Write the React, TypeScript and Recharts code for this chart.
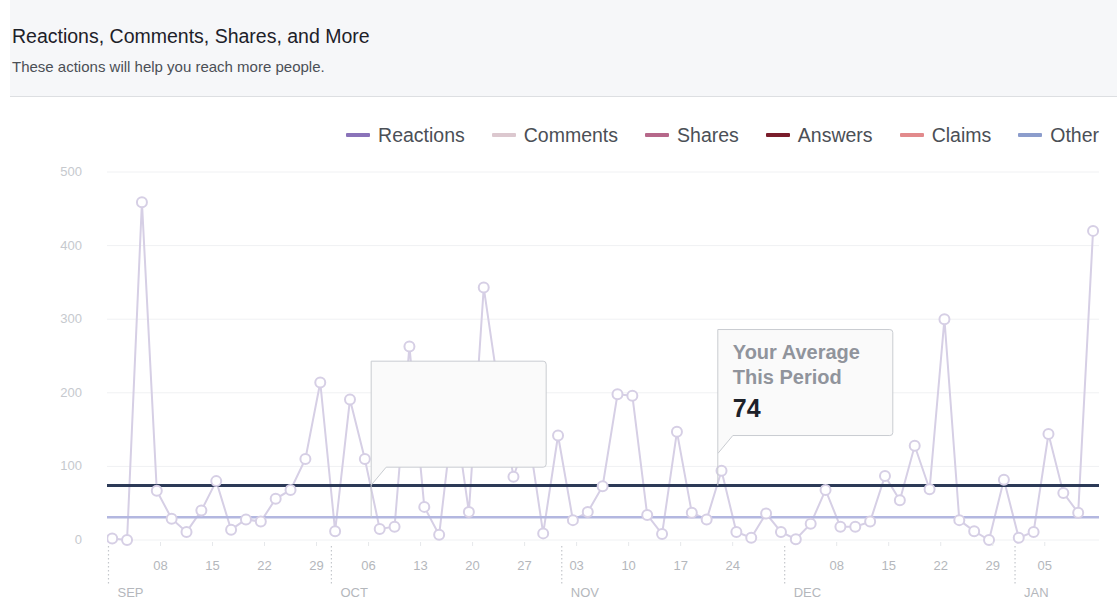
import {
  CartesianGrid,
  Line,
  LineChart,
  ReferenceDot,
  ReferenceLine,
  XAxis,
  YAxis,
} from 'recharts'

const FONT = '"Liberation Sans", Arial, Helvetica, sans-serif'

// one point every other day, Sep 1 2014 .. Jan 11 2015
const DATES = [
  '2014-09-01', '2014-09-03', '2014-09-05', '2014-09-07', '2014-09-09',
  '2014-09-11', '2014-09-13', '2014-09-15', '2014-09-17', '2014-09-19',
  '2014-09-21', '2014-09-23', '2014-09-25', '2014-09-27', '2014-09-29',
  '2014-10-01', '2014-10-03', '2014-10-05', '2014-10-07', '2014-10-09',
  '2014-10-11', '2014-10-13', '2014-10-15', '2014-10-17', '2014-10-19',
  '2014-10-21', '2014-10-23', '2014-10-25', '2014-10-27', '2014-10-29',
  '2014-10-31', '2014-11-02', '2014-11-04', '2014-11-06', '2014-11-08',
  '2014-11-10', '2014-11-12', '2014-11-14', '2014-11-16', '2014-11-18',
  '2014-11-20', '2014-11-22', '2014-11-24', '2014-11-26', '2014-11-28',
  '2014-11-30', '2014-12-02', '2014-12-04', '2014-12-06', '2014-12-08',
  '2014-12-10', '2014-12-12', '2014-12-14', '2014-12-16', '2014-12-18',
  '2014-12-20', '2014-12-22', '2014-12-24', '2014-12-26', '2014-12-28',
  '2014-12-30', '2015-01-01', '2015-01-03', '2015-01-05', '2015-01-07',
  '2015-01-09', '2015-01-11',
]

const REACTIONS = [
  2, 0, 459, 67, 29, 11, 40, 80, 14, 28,
  25, 56, 68, 110, 214, 12, 191, 110, 15, 18,
  263, 45, 7, 180, 38, 343, 205, 86, 145, 9,
  142, 27, 38, 73, 198, 196, 34, 8, 147, 37,
  28, 94, 11, 3, 36, 11, 1, 22, 68, 18,
  18, 25, 87, 54, 128, 69, 300, 27, 12, 0,
  82, 3, 11, 144, 64, 37, 420,
]

const YOUR_AVERAGE = 74
const OTHER_AVERAGE = 31

const Y_TICKS = [0, 100, 200, 300, 400, 500]

const WEEK_TICKS = [
  '2014-09-08', '2014-09-15', '2014-09-22', '2014-09-29',
  '2014-10-06', '2014-10-13', '2014-10-20', '2014-10-27',
  '2014-11-03', '2014-11-10', '2014-11-17', '2014-11-24',
  '2014-12-08', '2014-12-15', '2014-12-22', '2014-12-29',
  '2015-01-05',
]
const MONTH_STARTS = ['2014-09-01', '2014-10-01', '2014-11-01', '2014-12-01', '2015-01-01']
const MONTH_LABELS = ['SEP', 'OCT', 'NOV', 'DEC', 'JAN']

const LEGEND_NAMES = ['Reactions', 'Comments', 'Shares', 'Answers', 'Claims', 'Other']
const LEGEND_COLORS = ['#8a73b9', '#dcc8cf', '#b6688a', '#7a1d2b', '#e28a8c', '#8c9dcc']

const DAY_MS = 86400000
const dayOf = (d: string) => (Date.parse(d) - Date.parse(DATES[0])) / DAY_MS

const chartData = DATES.map((d, i) => ({ day: dayOf(d), reactions: REACTIONS[i] }))

// axis ticks sit on the day boundary, half a day before the point
const tickInfo = [
  ...MONTH_STARTS.map((d, i) => ({ pos: dayOf(d) - 0.5, label: MONTH_LABELS[i], month: true })),
  ...WEEK_TICKS.map((d) => ({ pos: dayOf(d) - 0.5, label: d.slice(8, 10), month: false })),
].sort((a, b) => a.pos - b.pos)

const CALLOUTS = [
  { day: 34.85, value: OTHER_AVERAGE, lines: [] as string[], number: '' },
  { day: 81.5, value: YOUR_AVERAGE, lines: ['Your Average', 'This Period'], number: String(YOUR_AVERAGE) },
]

const LINE_COLOR = '#d6cfe5'

interface TickProps {
  x?: number | string
  y?: number | string
  payload?: { value: number }
}

function DateTick({ x, y, payload }: TickProps) {
  if (!payload) return null
  const info = tickInfo.find((t) => Math.abs(t.pos - payload.value) < 1e-6)
  if (!info) return null
  const tx = Number(x)
  const ty = Number(y)
  if (info.month) {
    return (
      <g>
        <line x1={tx} x2={tx} y1={ty + 6} y2={ty + 46} stroke='#c4c7cc' strokeWidth={1.2} strokeDasharray='1.5 2.5' />
        <text x={tx + 9} y={ty + 57} fill='#b4b7bc' fontSize={13} fontFamily={FONT}>
          {info.label}
        </text>
      </g>
    )
  }
  return (
    <g>
      <line x1={tx} x2={tx} y1={ty + 2} y2={ty + 6} stroke='#e6e8eb' strokeWidth={1} />
      <text x={tx} y={ty + 30} textAnchor='middle' fill='#b4b7bc' fontSize={13} fontFamily={FONT}>
        {info.label}
      </text>
    </g>
  )
}

function YTick({ x, y, payload }: TickProps) {
  if (!payload) return null
  return (
    <text x={Number(x)} y={Number(y)} dy={4} textAnchor='end' fill='#c6c9ce' fontSize={13} fontFamily={FONT}>
      {payload.value}
    </text>
  )
}

function Callout({ cx, cy, lines, number }: { cx?: number; cy?: number; lines: string[]; number: string }) {
  if (cx == null || cy == null) return null
  const w = 175
  const h = 106
  const bottom = cy - 50
  const top = bottom - h
  const r = 3
  const d = `M${cx},${top} L${cx + w - r},${top} Q${cx + w},${top} ${cx + w},${top + r} L${cx + w},${bottom - r} Q${cx + w},${bottom} ${cx + w - r},${bottom} L${cx + 15},${bottom} L${cx},${bottom + 18} Z`
  return (
    <g>
      <line x1={cx} x2={cx} y1={bottom + 18} y2={cy} stroke='#c9ccd1' strokeWidth={1} />
      <path d={d} fill='#fafafa' stroke='#c9ccd1' strokeWidth={1} />
      {lines.map((l, i) => (
        <text key={l} x={cx + 15} y={top + 29 + i * 25} fill='#90949c' fontSize={20} fontWeight='bold' fontFamily={FONT}>
          {l}
        </text>
      ))}
      {number && (
        <text x={cx + 15} y={top + 87} fill='#1d2129' fontSize={25} fontWeight='bold' fontFamily={FONT}>
          {number}
        </text>
      )}
    </g>
  )
}

export default function App() {
  return (
    <div style={{ position: 'absolute', left: 0, top: 0, width: 1117, height: 604, background: '#fff', fontFamily: FONT, overflow: 'hidden' }}>
      <div
        style={{
          position: 'absolute',
          left: 10,
          top: 0,
          width: 1107,
          height: 96,
          background: '#f6f7f9',
          borderBottom: '1px solid #dddfe2',
        }}
      >
        <div style={{ position: 'absolute', left: 2, top: 27, fontSize: 19.5, lineHeight: '19.5px', color: '#1d2129', whiteSpace: 'nowrap' }}>
          Reactions, Comments, Shares, and More
        </div>
        <div style={{ position: 'absolute', left: 2, top: 59, fontSize: 15, lineHeight: '15px', color: '#4b4f56', whiteSpace: 'nowrap' }}>
          These actions will help you reach more people.
        </div>
      </div>

      <div
        style={{
          position: 'absolute',
          right: 18,
          top: 125,
          height: 20,
          display: 'flex',
          alignItems: 'center',
          fontSize: 19.5,
          color: '#4b4f56',
          whiteSpace: 'nowrap',
        }}
      >
        {LEGEND_NAMES.map((name, i) => (
          <div key={name} style={{ display: 'flex', alignItems: 'center', marginLeft: i === 0 ? 0 : 27 }}>
            <span style={{ display: 'inline-block', width: 24, height: 4, borderRadius: 1, background: LEGEND_COLORS[i], marginRight: 8 }} />
            <span>{name}</span>
          </div>
        ))}
      </div>

      <div style={{ position: 'absolute', left: 0, top: 0 }}>
        <LineChart width={1117} height={604} data={chartData} margin={{ top: 172, right: 18, left: 47, bottom: 4 }}>
          <CartesianGrid horizontal vertical={false} stroke='#f0f1f3' />
          <XAxis
            type='number'
            dataKey='day'
            domain={[-0.7, 132.8]}
            allowDataOverflow
            ticks={tickInfo.map((t) => t.pos)}
            interval={0}
            tick={DateTick}
            tickSize={0}
            tickMargin={0}
            tickLine={false}
            axisLine={false}
            height={60}
          />
          <YAxis
            type='number'
            domain={[0, 500]}
            ticks={Y_TICKS}
            tick={YTick}
            tickSize={0}
            tickMargin={25}
            tickLine={false}
            axisLine={false}
            width={60}
          />
          <Line
            type='linear'
            dataKey='reactions'
            stroke={LINE_COLOR}
            strokeWidth={2}
            dot={{ r: 5, fill: '#fff', stroke: LINE_COLOR, strokeWidth: 2 }}
            isAnimationActive={false}
          />
          <ReferenceLine y={OTHER_AVERAGE} stroke='#b3b7e0' strokeWidth={2.5} />
          <ReferenceLine y={YOUR_AVERAGE} stroke='#2c3a57' strokeWidth={3} />
          {CALLOUTS.map((c) => (
            <ReferenceDot
              key={c.day}
              x={c.day}
              y={c.value}
              r={0}
              shape={(p: { cx?: number; cy?: number }) => <Callout cx={p.cx} cy={p.cy} lines={c.lines} number={c.number} />}
            />
          ))}
        </LineChart>
      </div>
    </div>
  )
}
